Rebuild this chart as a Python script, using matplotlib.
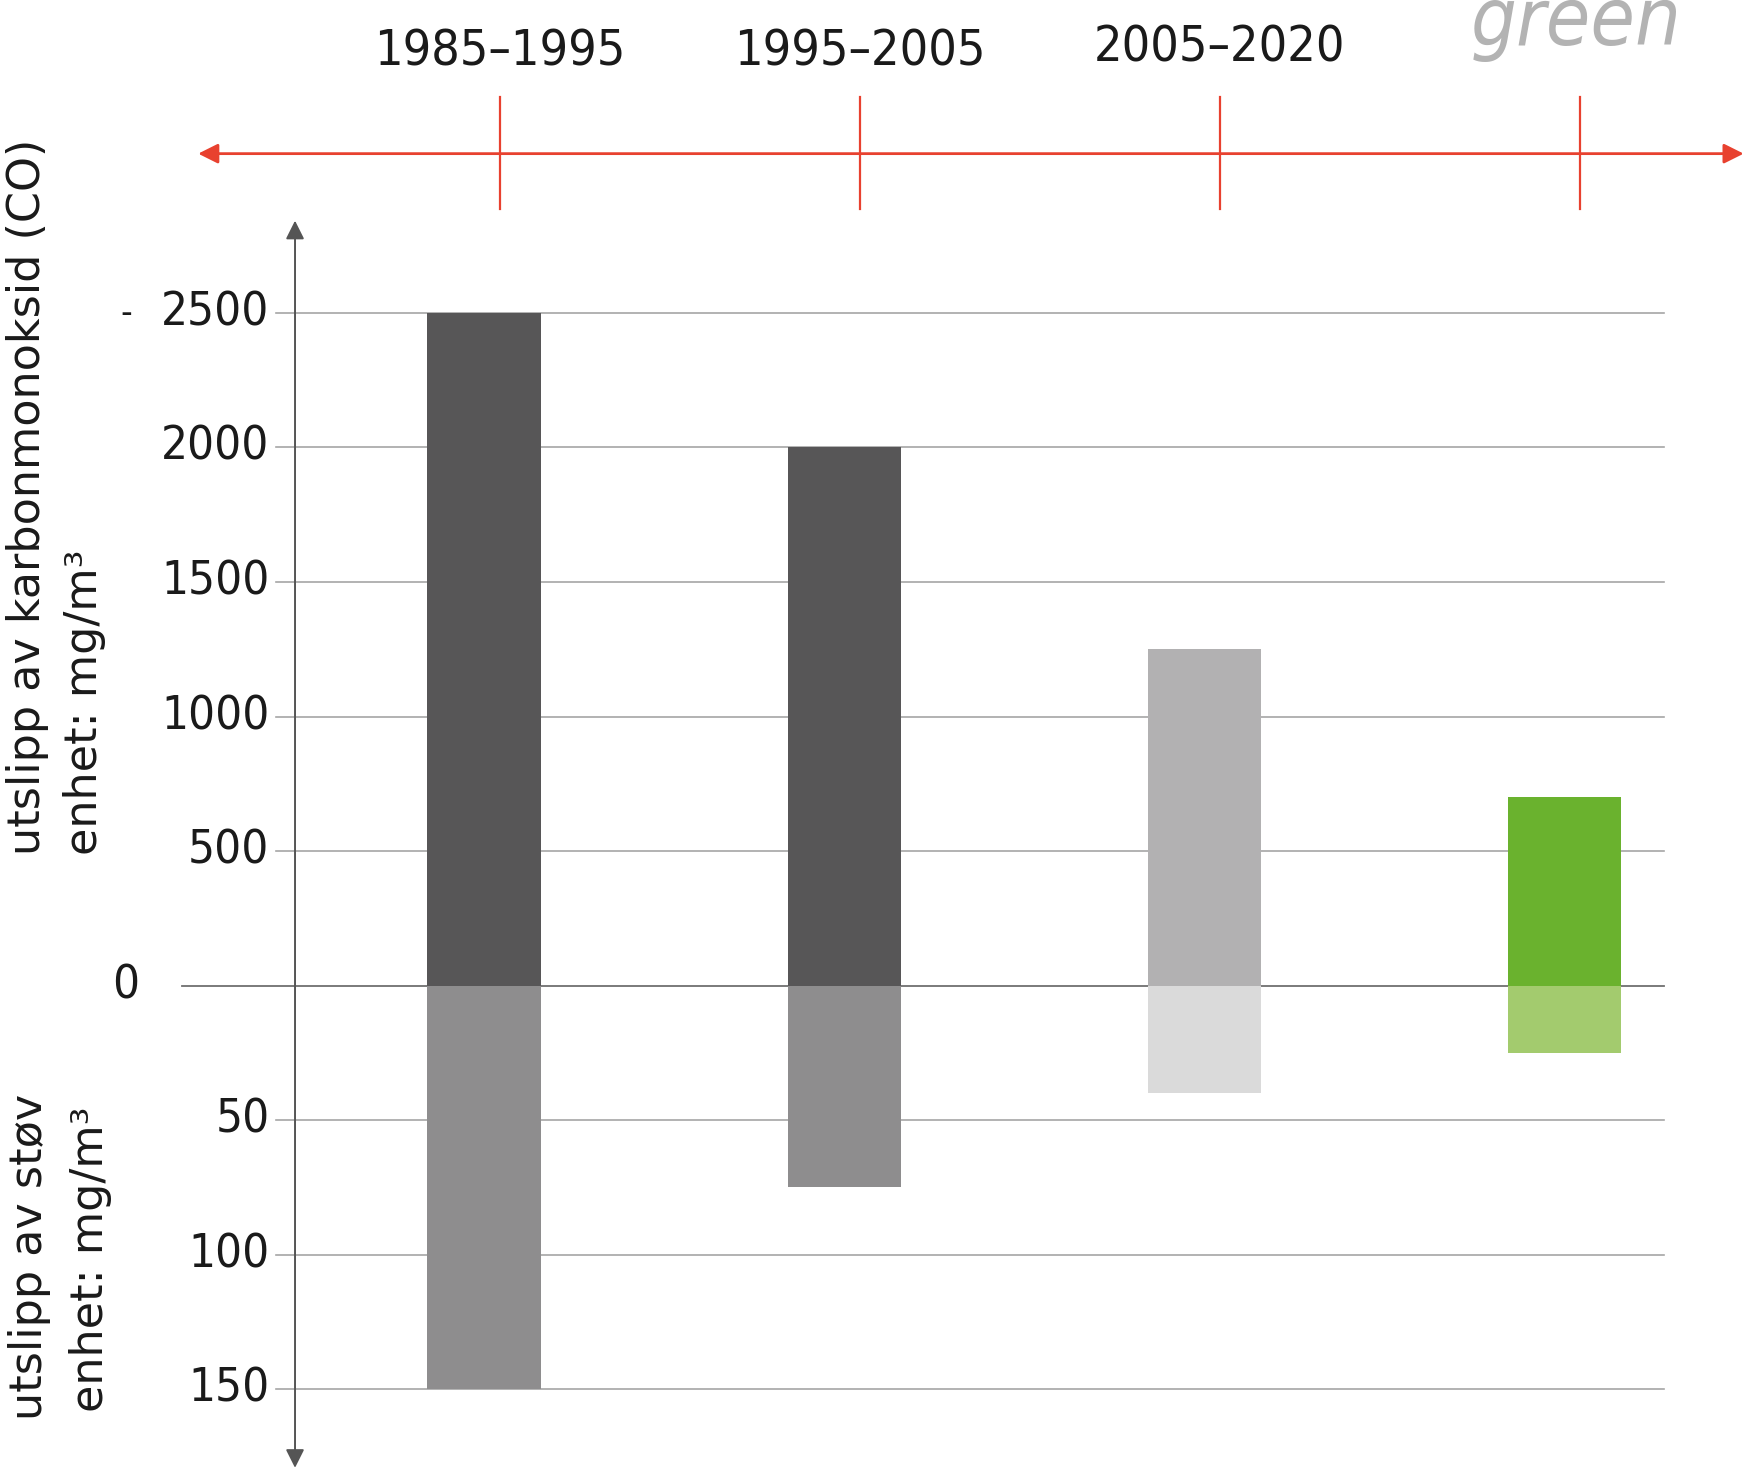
import matplotlib
matplotlib.use("Agg")
import matplotlib.pyplot as plt
from matplotlib import font_manager

# periods on the timeline and the values of each bar
periods = ["1985–1995", "1995–2005", "2005–2020", "green"]
co_values = [2500, 2000, 1250, 700]      # karbonmonoksid, mg/m3 (upwards)
dust_values = [150, 75, 40, 25]          # støv, mg/m3 (downwards)
co_ticks = [500, 1000, 1500, 2000, 2500]
dust_ticks = [50, 100, 150]

co_colors = ["#575657", "#575657", "#b2b1b2", "#6ab22e"]
dust_colors = ["#8e8d8e", "#8e8d8e", "#dadada", "#a3cb6e"]

# 50 mg/m3 dust sits at the same height as 500 mg/m3 CO
DUST_SCALE = 10


def find_condensed(styles=("normal",)):
    # look for a narrow/condensed sans face among the installed fonts
    hits = []
    for f in font_manager.fontManager.ttflist:
        tag = (f.name + " " + f.fname).lower()
        if "serif" in tag and "sans" not in tag:
            continue
        if "mono" in tag:
            continue
        narrow = ("condensed" in tag or "narrow" in tag
                  or str(f.stretch) in ("condensed", "semi-condensed", "extra-condensed"))
        if narrow and f.style in styles:
            w = f.weight if isinstance(f.weight, int) else 400
            hits.append((abs(w - 400), f.fname))
    if hits:
        hits.sort()
        return font_manager.FontProperties(fname=hits[0][1])
    return None


cond = find_condensed()
if cond is not None:
    tick_font = cond
    tick_size, label_size = 34, 36
else:
    tick_font = font_manager.FontProperties(family=["Roboto", "DejaVu Sans"])
    tick_size, label_size = 32, 34
label_font = tick_font.copy()
cond_it = find_condensed(("italic", "oblique"))
green_font = cond_it if cond_it is not None else font_manager.FontProperties(
    family=["Roboto", "DejaVu Sans"], style="italic")

fig = plt.figure(figsize=(17.46, 14.70), dpi=100)
ax = fig.add_axes([0, 0, 1, 1])
ax.set_xlim(-1.3455, 3.5045)
ax.set_ylim(-1800, 3663)
ax.axis("off")

x = list(range(len(periods)))

# grid lines
grid_left, grid_right = -0.578, 3.276
for t in co_ticks:
    ax.plot([grid_left, grid_right], [t, t], color="#a6a6a6", lw=1.2, zorder=1)
for t in dust_ticks:
    ax.plot([grid_left, grid_right], [-t * DUST_SCALE] * 2, color="#a6a6a6", lw=1.2, zorder=1)
ax.plot([-0.841, grid_right], [0, 0], color="#707070", lw=1.3, zorder=1)

# bars
ax.bar(x, co_values, width=0.316, color=co_colors, zorder=3)
ax.bar(x, [-d * DUST_SCALE for d in dust_values], width=0.316, color=dust_colors, zorder=3)

# vertical axis with arrows at both ends
ax.annotate("", xy=(-0.526, 2843), xytext=(-0.526, -1792),
            arrowprops=dict(arrowstyle="<|-|>", color="#555555", lw=1.4,
                            mutation_scale=28, shrinkA=0, shrinkB=0), zorder=4)

# tick labels
tick_x = -0.597
for t in co_ticks:
    ax.text(tick_x, t, str(t), ha="right", va="center", fontproperties=tick_font,
            fontsize=tick_size, color="#1a1a1a")
for t in dust_ticks:
    ax.text(tick_x, -t * DUST_SCALE, str(t), ha="right", va="center",
            fontproperties=tick_font, fontsize=tick_size, color="#1a1a1a")
ax.text(-0.996, 0, "0", ha="center", va="center", fontproperties=tick_font,
        fontsize=tick_size, color="#1a1a1a")
ax.text(-0.996, co_ticks[-1], "-", ha="center", va="center", fontproperties=tick_font,
        fontsize=26, color="#1a1a1a")

# axis titles
title_kw = dict(rotation=90, rotation_mode="anchor", ha="left", va="baseline",
                fontsize=32, color="#1a1a1a", family="DejaVu Sans")
ax.text(-1.234, 484, "utslipp av karbonmonoksid (CO)", **title_kw)
ax.text(-1.076, 484, "enhet: mg/m³", **title_kw)
ax.text(-1.228, -1614, "utslipp av støv", **title_kw)
ax.text(-1.058, -1585, "enhet: mg/m³", **title_kw)

# timeline on top
red = "#e8412f"
line_y = 3092
ax.annotate("", xy=(3.498, line_y), xytext=(-0.795, line_y),
            arrowprops=dict(arrowstyle="<|-|>", color=red, lw=2,
                            mutation_scale=30, shrinkA=0, shrinkB=0))
offset = 0.043
label_y = [3419, 3419, 3433, 3497]
for i, name in enumerate(periods):
    ax.plot([i + offset] * 2, [2885, 3303], color=red, lw=1.6)
    if name == "green":
        ax.text(i + offset - 0.01, label_y[i], name, ha="center", va="baseline",
                fontproperties=green_font, fontsize=58, color="#b3b3b3")
    else:
        ax.text(i + offset, label_y[i], name, ha="center", va="baseline",
                fontproperties=label_font, fontsize=label_size, color="#1a1a1a")

fig.savefig("out.png", dpi=100)
